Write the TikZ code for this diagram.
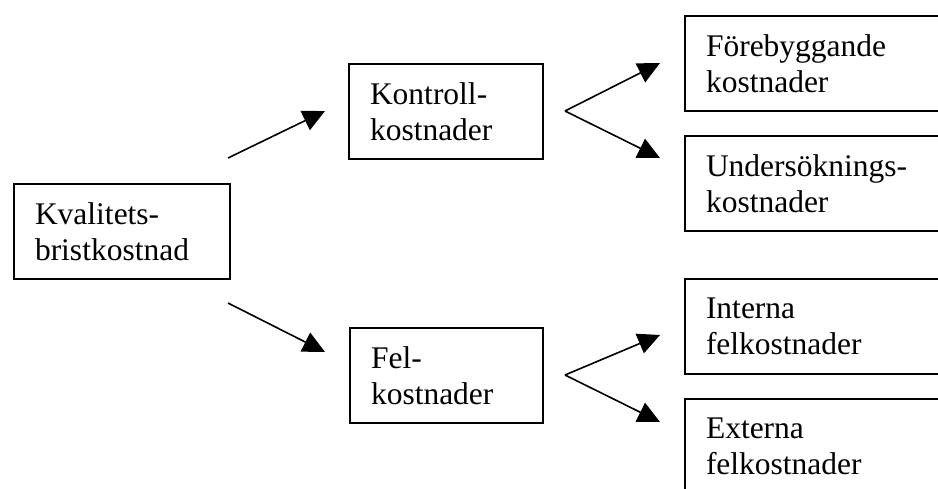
\documentclass[tikz,border=0pt]{standalone}
\usepackage{fontspec}
\setmainfont{Liberation Serif}
\usetikzlibrary{arrows.meta}
\begin{document}
\begin{tikzpicture}[x=1pt,y=-1pt,
  box/.style={draw, line width=2pt, anchor=north west, minimum height=95pt,
    inner xsep=21pt, inner ysep=0pt, align=left,
    font=\fontsize{31.5}{36}\selectfont},
  arr/.style={line width=1.6pt, -{Triangle[length=22pt,width=21pt]}, shorten >=0pt}
]
  \useasboundingbox (0,0) rectangle (938,488);
  \fill[white] (0,0) rectangle (938,488);
  \clip (0,0) rectangle (938,488);

  % main cost box and the two cost groups
  \node[box, minimum width=216pt, text width=174pt] (kval) at (13,183) {Kvalitets-\\bristkostnad};
  \node[box, minimum width=194pt, text width=152pt] (kontroll) at (348,63) {Kontroll-\\kostnader};
  \node[box, minimum width=193pt, text width=151pt] (fel) at (349,327) {Fel-\\kostnader};

  % sub-categories (running off the right edge)
  \node[box, minimum width=300pt, text width=258pt] (foreb) at (684,15) {Förebyggande\\kostnader};
  \node[box, minimum width=300pt, text width=258pt] (unders) at (684,135) {Undersöknings-\\kostnader};
  \node[box, minimum width=300pt, text width=258pt] (intern) at (684,278) {Interna\\felkostnader};
  \node[box, minimum width=300pt, text width=258pt] (extern) at (684,398) {Externa\\felkostnader};

  % free ends of the connectors
  \coordinate (kvalUp) at (228,158);
  \coordinate (kvalDown) at (228,303);
  \coordinate (kontrollTip) at (325,111);
  \coordinate (felTip) at (325,352);
  \coordinate (kontrollFork) at (565,111);
  \coordinate (forebTip) at (660,63);
  \coordinate (undersTip) at (660,158);
  \coordinate (felFork) at (565,375);
  \coordinate (internTip) at (660,335);
  \coordinate (externTip) at (660,422);

  \draw[arr] (kvalUp) -- (kontrollTip);
  \draw[arr] (kvalDown) -- (felTip);
  \draw[arr] (kontrollFork) -- (forebTip);
  \draw[arr] (kontrollFork) -- (undersTip);
  \draw[arr] (felFork) -- (internTip);
  \draw[arr] (felFork) -- (externTip);
\end{tikzpicture}
\end{document}
